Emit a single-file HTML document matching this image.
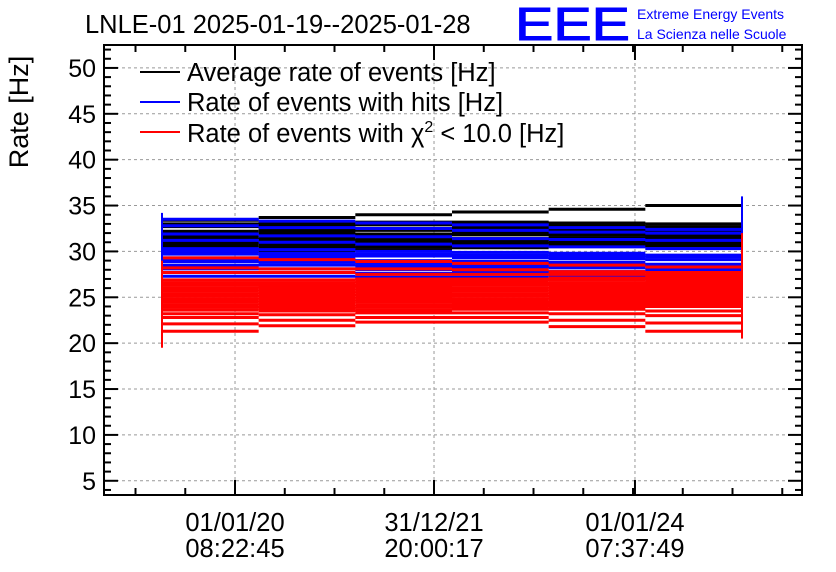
<!DOCTYPE html>
<html><head><meta charset="utf-8"><style>
body{margin:0;background:#fff}
svg{display:block;font-family:"Liberation Sans",Arial,sans-serif}
</style></head><body>
<svg id="chart" width="836" height="572" xmlns="http://www.w3.org/2000/svg">
<rect width="836" height="572" fill="#fff"/>
<text x="85" y="33" font-size="25.5">LNLE-01 2025-01-19--2025-01-28</text>
<text x="515" y="40" font-size="46" fill="#0000ff" stroke="#0000ff" stroke-width="1" textLength="115" lengthAdjust="spacingAndGlyphs">EEE</text>
<text x="637" y="19" font-size="14" fill="#0000ff">Extreme Energy Events</text>
<text x="637" y="39" font-size="14" fill="#0000ff">La Scienza nelle Scuole</text>
<text transform="translate(28,112) rotate(-90)" text-anchor="middle" font-size="27">Rate [Hz]</text>
<g id="grid"></g>
<g id="series"></g>
<g id="axes"></g>
<g>
<line x1="140" y1="72" x2="180" y2="72" stroke="#000" stroke-width="2"/>
<text x="187" y="81" font-size="25.5">Average rate of events [Hz]</text>
<line x1="140" y1="102" x2="180" y2="102" stroke="#0000ff" stroke-width="2"/>
<text x="187" y="111" font-size="25.5">Rate of events with hits [Hz]</text>
<line x1="140" y1="132" x2="180" y2="132" stroke="#ff0000" stroke-width="2"/>
<text x="187" y="142" font-size="25.5">Rate of events with χ<tspan font-size="16" dy="-10">2</tspan><tspan dy="10"> &lt; 10.0 [Hz]</tspan></text>
</g>
</svg>
<script>
const yTicks=[5,10,15,20,25,30,35,40,45,50];
const xTickLabels=[["01/01/20","08:22:45"],["31/12/21","20:00:17"],["01/01/24","07:37:49"]];
const xTickPos=[0.1877,0.4728,0.7607];
const blackLines=[[33.4,33.7,34.0,34.3,34.6,35.0],[33.0,33.1,33.2,33.2,33.1,33.0],[32.7,32.8,32.9,32.8,32.8,32.7],[32.2,32.5,32.5,32.6,32.5,32.4],[31.9,32.2,32.3,32.2,32.3,32.2],[31.6,31.9,31.9,32.0,32.0,31.9],[31.3,31.5,31.7,31.8,31.8,31.7],[31.0,31.2,31.3,31.4,31.5,31.5],[30.7,31.0,31.0,31.1,31.3,31.4],[30.4,30.7,30.8,30.9,31.0,31.1],[30.1,30.4,30.5,30.6,30.8,30.9],[29.8,30.1,30.2,30.4,30.6,30.6]];
const blueLines=[[33.5,33.3,33.1,32.9,32.6,32.4],[32.8,32.6,32.5,32.3,32.1,32.0],[31.9,31.7,31.6,31.4,31.3,31.2],[31.2,31.0,30.8,30.6,30.5,30.3],[30.3,30.2,30.0,29.9,29.8,29.6],[29.7,29.5,29.5,29.3,29.2,29.1],[29.3,29.2,29.0,28.9,28.8,28.6],[28.9,28.8,28.7,28.6,28.5,28.4],[28.5,28.5,28.4,28.3,28.2,28.0],[28.1,28.1,28.0,27.9,27.8,27.7],[27.7,27.7,27.6,27.6,27.4,27.3],[27.3,27.3,27.2,27.2,27.0,26.9],[29.0,28.9,28.7,28.7,28.6,28.5],[30.0,29.8,29.7,29.6,29.5,29.4]];
const redLines=[[29.3,29.1,28.9,28.7,28.5,28.3],[28.2,28.1,28.1,28.0,27.8,27.7],[27.7,27.7,27.5,27.5,27.5,27.4],[26.9,26.9,27.0,27.0,27.1,27.2],[26.6,26.6,26.7,26.8,26.9,27.0],[26.3,26.3,26.4,26.5,26.6,26.7],[26.0,26.1,26.2,26.3,26.4,26.4],[25.7,25.8,25.9,26.0,26.1,26.1],[25.4,25.5,25.6,25.7,25.8,25.8],[25.1,25.2,25.3,25.4,25.5,25.5],[24.8,24.9,25.0,25.1,25.2,25.2],[24.5,24.6,24.7,24.8,24.9,24.9],[24.2,24.3,24.5,24.5,24.6,24.6],[23.9,24.0,24.2,24.3,24.3,24.3],[23.6,23.8,23.9,24.0,24.0,24.0],[23.2,23.5,23.6,23.7,23.7,23.5],[22.8,23.1,23.3,23.3,23.2,23.0],[22.1,22.5,22.8,22.8,22.5,22.2],[21.3,21.9,22.3,22.3,21.8,21.3]];
const leftBlue=[27.5,34.2], leftRed=[19.5,29.0], rightBlue=[29.5,36.0], rightRed=[20.5,32.0];
const NS="http://www.w3.org/2000/svg";
const L=104,R=802,T=45,B=495,yMin=3.45,yMax=52.5;
const xStart=162,xEnd=742;
const ys=v=>B-(v-yMin)/(yMax-yMin)*(B-T);
function mk(tag,attrs,parent){const e=document.createElementNS(NS,tag);for(const k in attrs)e.setAttribute(k,attrs[k]);parent.appendChild(e);return e;}
const grid=document.getElementById('grid'),ser=document.getElementById('series'),ax=document.getElementById('axes');
yTicks.forEach(v=>{
 const g=mk('line',{x1:L,x2:R,y1:ys(v),y2:ys(v),stroke:'#999','stroke-dasharray':'3,3','stroke-width':1},grid);
 
 
 const t=mk('text',{x:L-8,y:ys(v)+9,'text-anchor':'end','font-size':25},ax);t.textContent=v;
 
 
 mk('line',{x1:L,x2:L+14,y1:ys(v),y2:ys(v),stroke:'#000','stroke-width':2},ax);
 mk('line',{x1:R-14,x2:R,y1:ys(v),y2:ys(v),stroke:'#000','stroke-width':2},ax);
 for(let k=1;k<5;k++){const mv=v+k;if(mv>yMax)break;mk('line',{x1:L,x2:L+7,y1:ys(mv),y2:ys(mv),stroke:'#000','stroke-width':2},ax);mk('line',{x1:R-7,x2:R,y1:ys(mv),y2:ys(mv),stroke:'#000','stroke-width':2},ax);}
});
mk('line',{x1:L,x2:L+7,y1:ys(4),y2:ys(4),stroke:'#000','stroke-width':2},ax);
mk('line',{x1:R-7,x2:R,y1:ys(4),y2:ys(4),stroke:'#000','stroke-width':2},ax);
xTickPos.forEach((p,i)=>{
 const x=L+p*(R-L);
 const g=mk('line',{x1:x,x2:x,y1:T,y2:B,stroke:'#999','stroke-dasharray':'3,3','stroke-width':1},grid);
 
 
 mk('line',{x1:x,x2:x,y1:B,y2:B-15,stroke:'#000','stroke-width':2},ax);
 mk('line',{x1:x,x2:x,y1:T,y2:T+15,stroke:'#000','stroke-width':2},ax);
 const t=mk('text',{x:x,y:531,'text-anchor':'middle','font-size':25.5},ax);
 
 
 const a=mk('tspan',{x:x},t);a.textContent=xTickLabels[i][0];
 const b=mk('tspan',{x:x,dy:26},t);b.textContent=xTickLabels[i][1];
});
const step=(R-L)*(xTickPos[1]-xTickPos[0])/4;
for(let x=L+xTickPos[0]*(R-L)-step*3;x<R;x+=step){if(x<=L+2)continue;mk('line',{x1:x,x2:x,y1:B,y2:B-7,stroke:'#000','stroke-width':2},ax);mk('line',{x1:x,x2:x,y1:T,y2:T+7,stroke:'#000','stroke-width':2},ax);}
function draw(lines,color,name){
 lines.forEach(vals=>{
  const n=vals.length,w=(xEnd-xStart)/n;let d='';
  vals.forEach((v,i)=>{const x0=xStart+i*w,x1=x0+w;d+='M'+x0+' '+ys(v)+'L'+x1+' '+ys(v);});
  const p=mk('path',{d:d,fill:'none',stroke:color,'stroke-width':3},ser);
  
  
 });
}
draw(blackLines,'#000','average-rate-line');
draw(blueLines,'#0000ff','hits-rate-line');
draw(redLines,'#ff0000','chi2-rate-line');
[[xStart,leftBlue,'#0000ff'],[xStart,leftRed,'#ff0000'],[xEnd,rightBlue,'#0000ff'],[xEnd,rightRed,'#ff0000']].forEach(([x,r,c])=>{
 const e=mk('line',{x1:x,x2:x,y1:ys(r[0]),y2:ys(r[1]),stroke:c,'stroke-width':2},ser);
 
 
});
const fr=mk('rect',{x:L,y:T,width:R-L,height:B-T,fill:'none',stroke:'#000','stroke-width':2},ax);


</script>
</body></html>
